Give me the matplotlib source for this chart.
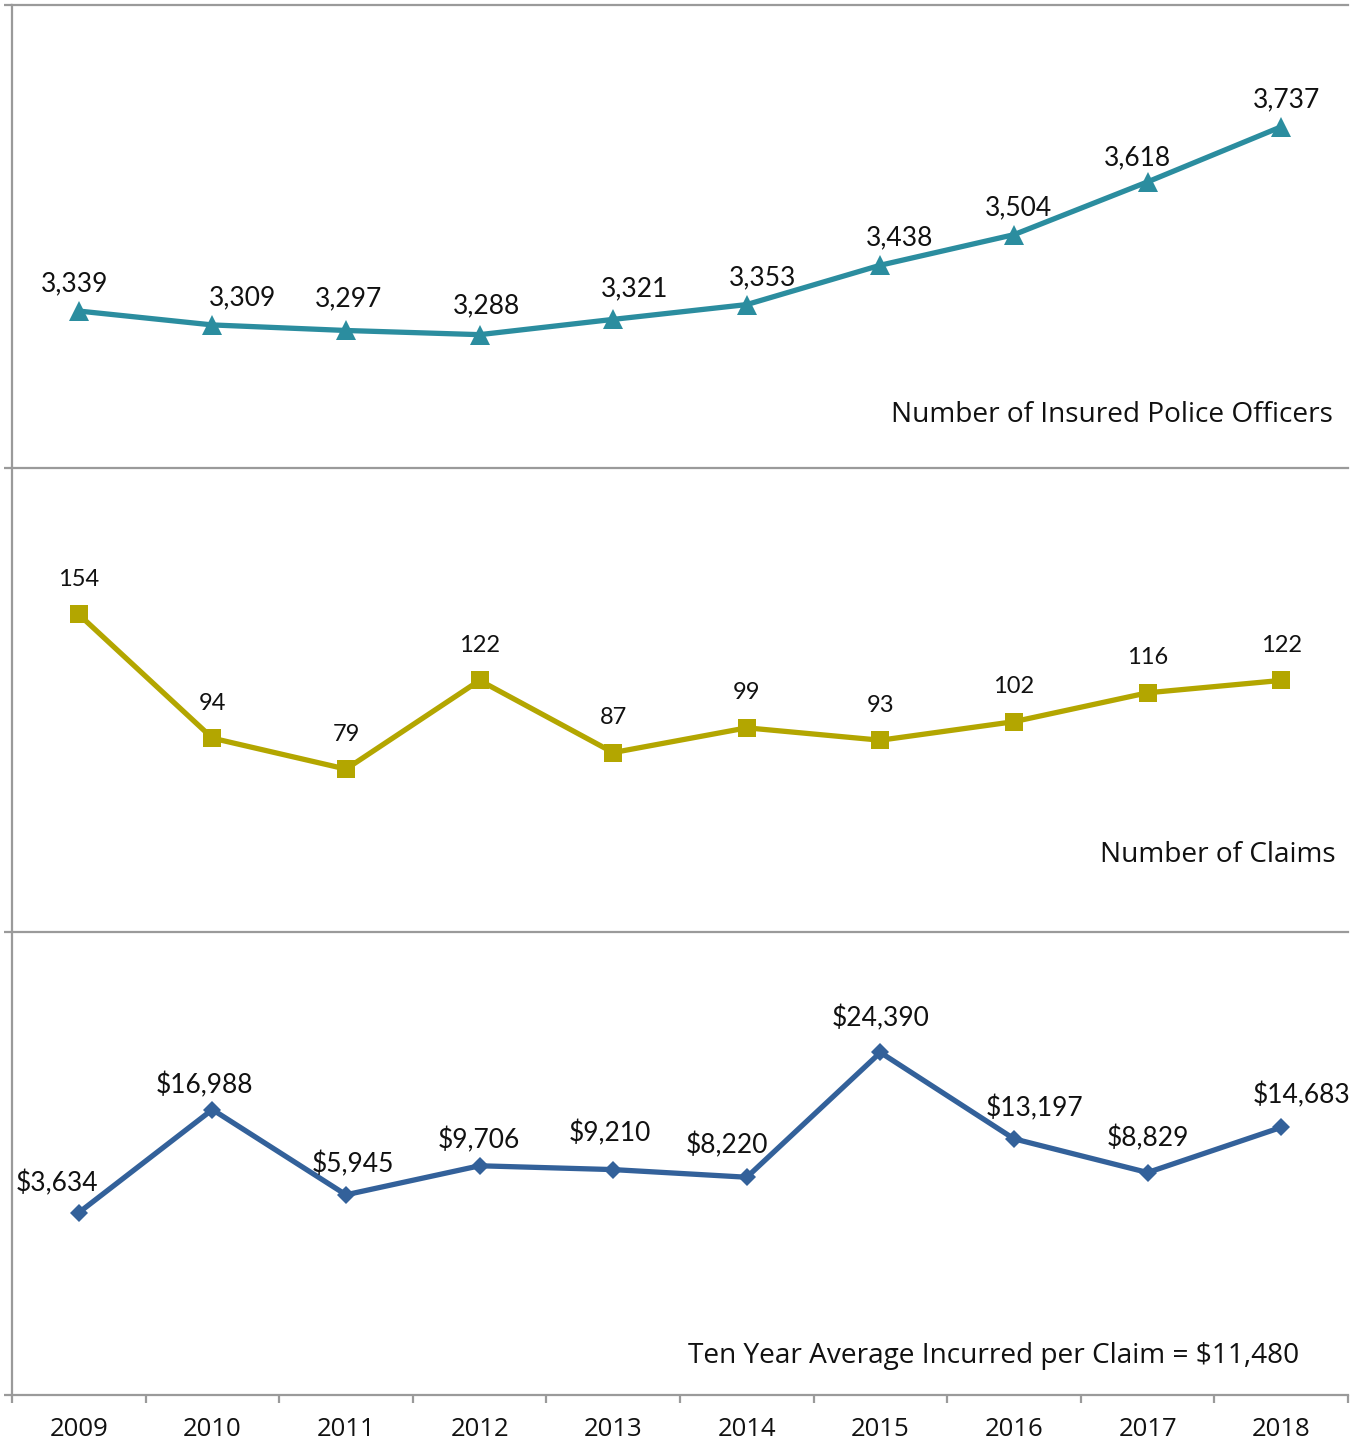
import numpy as np
import matplotlib.pyplot as plt
from matplotlib.ticker import FixedLocator

years = ["2009", "2010", "2011", "2012", "2013", "2014", "2015", "2016", "2017", "2018"]
officers = [3339, 3309, 3297, 3288, 3321, 3353, 3438, 3504, 3618, 3737]
claims = [154, 94, 79, 122, 87, 99, 93, 102, 116, 122]
avg_incurred = [3634, 16988, 5945, 9706, 9210, 8220, 24390, 13197, 8829, 14683]

officers_title = "Number of Insured Police Officers"
claims_title = "Number of Claims"
incurred_title = "Ten Year Average Incurred per Claim = $11,480"

# label nudges (pixels, dx, dy above marker)
officers_nudge = [(-4, 27), (30, 27), (2, 32), (7, 29), (21, 31), (16, 27), (19, 27), (5, 27), (-10, 24), (5, 27)]
claims_nudge = [(0, 35)] * 10
incurred_nudge = [(-22, 29), (-8, 24), (7, 31), (-1, 26), (-3, 36), (-20, 32), (0, 34), (21, 31), (0, 34), (20, 32)]

W, H = 1353, 1445
fig = plt.figure(figsize=(W / 100, H / 100), dpi=100)
px = 72 / 100  # points per pixel

grey = "#9a9a9a"
left, right = 12 / W, 1348 / W
edges = [5, 468, 932, 1395]

panels = [
    (officers, (3000, 4000), "#2b8d9f", "^", 15, officers_nudge, "{:,}", officers_title, 19),
    (claims, (0, 225), "#b3a600", "s", 13, claims_nudge, "{}", claims_title, 17),
    (avg_incurred, (-20000, 40000), "#33619a", "D", 9.5, incurred_nudge, "${:,}", incurred_title, 19),
]
title_pos = [(1333, 415), (1336, 855), (1299, 1356)]

x = np.arange(len(years))
axes = []
for i, (vals, ylim, color, mk, ms, nudge, fmt, title, fs) in enumerate(panels):
    top, bot = edges[i], edges[i + 1]
    ax = fig.add_axes([left, 1 - bot / H, right - left, (bot - top) / H])
    axes.append(ax)
    ax.plot(x, vals, color=color, lw=3.8, marker=mk, ms=ms, markeredgewidth=0,
            solid_joinstyle="round", zorder=3)
    for xi, v, (dx, dy) in zip(x, vals, nudge):
        ax.annotate(fmt.format(v), (xi, v), xytext=(dx * px, dy * px),
                    textcoords="offset points", ha="center", va="center",
                    fontsize=fs, family="Lato", color="#111111")
    ax.set_xlim(-0.5, len(years) - 0.5)
    ax.set_ylim(*ylim)
    tx, ty = title_pos[i]
    fig.text(tx / W, 1 - ty / H, title, ha="right", va="center",
             fontsize=20.2, family="Open Sans", color="#111111")

    for s in ["right", "bottom"]:
        ax.spines[s].set_visible(False)
    for s in ["top", "left"]:
        ax.spines[s].set_color(grey)
        ax.spines[s].set_linewidth(1.6)
    ax.yaxis.set_major_locator(FixedLocator([ylim[1]]))
    ax.tick_params(axis="y", direction="out", length=6, width=1.6, color=grey,
                   labelleft=False)
    ax.tick_params(axis="x", which="both", bottom=False, labelbottom=False)

ax = axes[-1]
ax.spines["bottom"].set_visible(True)
ax.spines["bottom"].set_color(grey)
ax.spines["bottom"].set_linewidth(1.6)
ax.yaxis.set_major_locator(FixedLocator([-20000, 40000]))
ax.set_xticks(x)
ax.set_xticklabels(years, fontsize=18.5, family="Open Sans", color="#111111")
ax.set_xticks(np.arange(-0.5, len(years)), minor=True)
ax.tick_params(axis="x", which="major", bottom=True, length=0, pad=16, labelbottom=True)
ax.tick_params(axis="x", which="minor", bottom=True, direction="out", length=6,
               width=1.6, color=grey)

fig.savefig("out.png", dpi=100, facecolor="white")
